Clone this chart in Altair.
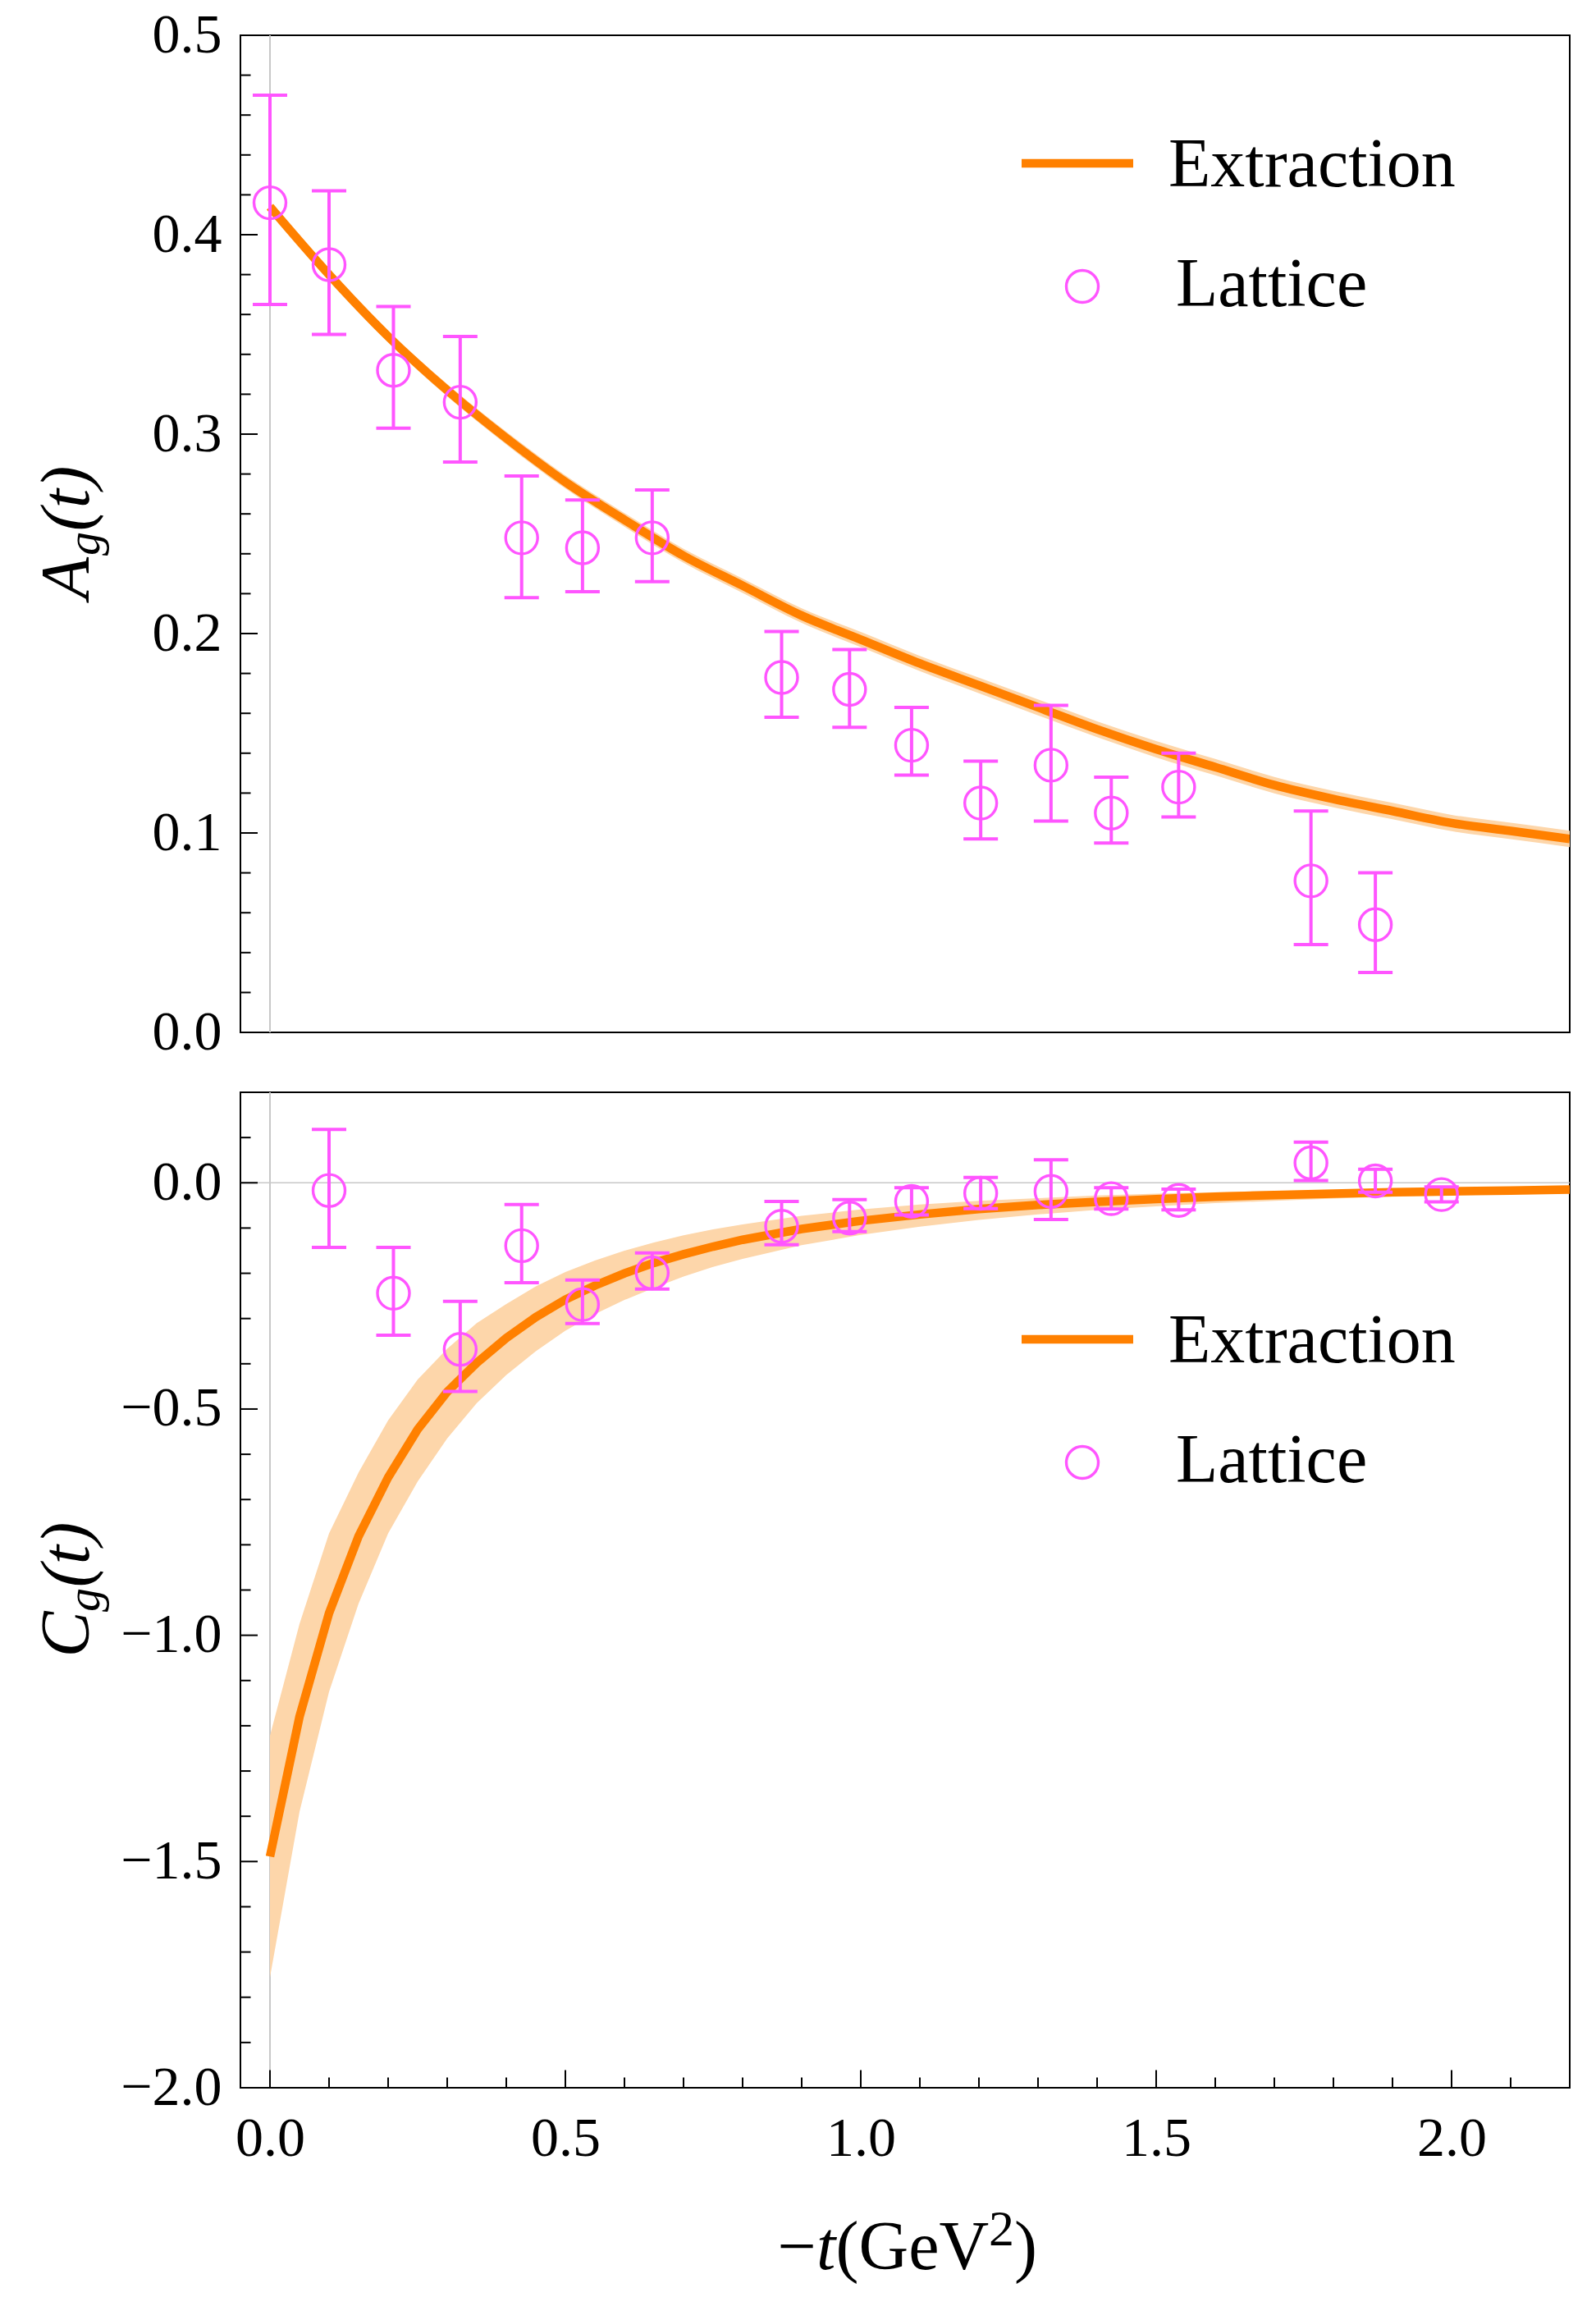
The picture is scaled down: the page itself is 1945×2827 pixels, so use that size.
import altair as alt
import pandas as pd

FONT = "Liberation Serif"
ORANGE = "#ff8000"
BAND = "#fdd6aa"
MAGENTA = "#ff55ff"
GRID = "#c8c8c8"

W = 1620
H_TOP = 1215
H_BOT = 1213

# ---------------- data: A_g(t) ----------------
curve_t_A = [0.0, 0.1, 0.2, 0.3, 0.4, 0.5, 0.6, 0.7, 0.8, 0.9, 1.0, 1.1,
             1.2, 1.3, 1.4, 1.5, 1.6, 1.7, 1.8, 1.9, 2.0, 2.1, 2.2]
curve_A = [0.414, 0.380, 0.349, 0.322, 0.298, 0.276, 0.257, 0.239, 0.224, 0.209, 0.197, 0.185,
           0.174, 0.163, 0.152, 0.142, 0.133, 0.124, 0.117, 0.111, 0.105, 0.101, 0.097]
curve_A_lo = [0.4115, 0.3773, 0.3461, 0.3189, 0.2948, 0.2727, 0.2536, 0.2355, 0.2204, 0.2053,
              0.1932, 0.1812, 0.1701, 0.1590, 0.1480, 0.1379, 0.1289, 0.1199, 0.1129, 0.1069,
              0.1009, 0.0969, 0.0929]
curve_A_hi = [0.4165, 0.3827, 0.3519, 0.3251, 0.3012, 0.2793, 0.2604, 0.2425, 0.2276, 0.2127,
              0.2008, 0.1888, 0.1779, 0.1670, 0.1560, 0.1461, 0.1371, 0.1281, 0.1211, 0.1151,
              0.1091, 0.1051, 0.1011]

lat_t_A = [0.0, 0.100, 0.209, 0.322, 0.426, 0.529, 0.647, 0.866, 0.981, 1.086, 1.203,
           1.322, 1.424, 1.538, 1.762, 1.871]
lat_A = [0.416, 0.385, 0.332, 0.316, 0.248, 0.243, 0.248, 0.178, 0.172, 0.144, 0.115,
         0.134, 0.110, 0.123, 0.076, 0.054]
lat_A_lo = [0.365, 0.350, 0.303, 0.286, 0.218, 0.221, 0.226, 0.158, 0.153, 0.129, 0.097,
            0.106, 0.095, 0.108, 0.044, 0.030]
lat_A_hi = [0.470, 0.422, 0.364, 0.349, 0.279, 0.267, 0.272, 0.201, 0.192, 0.163, 0.136,
            0.164, 0.128, 0.140, 0.111, 0.080]

# ---------------- data: C_g(t) ----------------
curve_t_C = [0.0, 0.05, 0.10, 0.15, 0.20, 0.25, 0.30, 0.35, 0.40, 0.45, 0.50, 0.55, 0.60,
             0.65, 0.70, 0.75, 0.80, 0.9, 1.0, 1.1, 1.2, 1.3, 1.4, 1.5, 1.6, 1.7, 1.8,
             1.9, 2.0, 2.1, 2.2]
curve_C = [-1.489, -1.180, -0.951, -0.781, -0.651, -0.545, -0.462, -0.398, -0.343, -0.297,
           -0.258, -0.227, -0.200, -0.177, -0.158, -0.141, -0.126, -0.102, -0.084, -0.070,
           -0.058, -0.049, -0.042, -0.036, -0.031, -0.027, -0.024, -0.021, -0.019, -0.017,
           -0.015]
curve_C_hi = [-1.222, -0.975, -0.775, -0.640, -0.525, -0.435, -0.367, -0.310, -0.268, -0.229,
              -0.197, -0.172, -0.150, -0.132, -0.116, -0.103, -0.092, -0.073, -0.059, -0.048,
              -0.040, -0.034, -0.028, -0.024, -0.021, -0.018, -0.016, -0.014, -0.012, -0.011,
              -0.010]
curve_C_lo = [-1.756, -1.390, -1.125, -0.930, -0.775, -0.660, -0.565, -0.487, -0.425, -0.372,
              -0.327, -0.290, -0.259, -0.232, -0.207, -0.186, -0.168, -0.138, -0.115, -0.097,
              -0.082, -0.070, -0.060, -0.052, -0.045, -0.040, -0.035, -0.031, -0.028, -0.025,
              -0.023]

lat_t_C = [0.100, 0.209, 0.322, 0.426, 0.529, 0.647, 0.866, 0.981, 1.086, 1.203, 1.322,
           1.424, 1.538, 1.762, 1.871, 1.983]
lat_C = [-0.017, -0.244, -0.368, -0.139, -0.269, -0.199, -0.096, -0.078, -0.041, -0.023,
         -0.019, -0.035, -0.039, 0.044, 0.004, -0.026]
lat_C_lo = [-0.143, -0.337, -0.461, -0.221, -0.311, -0.235, -0.137, -0.108, -0.071, -0.057,
            -0.081, -0.058, -0.060, 0.005, -0.021, -0.042]
lat_C_hi = [0.118, -0.143, -0.262, -0.048, -0.215, -0.155, -0.041, -0.037, -0.011, 0.012,
            0.051, -0.011, -0.014, 0.090, 0.030, -0.009]

# ---------------- ticks ----------------
top_y_major = [0.0, 0.1, 0.2, 0.3, 0.4, 0.5]
top_y_minor = [0.02, 0.04, 0.06, 0.08, 0.12, 0.14, 0.16, 0.18, 0.22, 0.24, 0.26, 0.28,
               0.32, 0.34, 0.36, 0.38, 0.42, 0.44, 0.46, 0.48]
bot_y_major = [-2.0, -1.5, -1.0, -0.5, 0.0]
bot_y_minor = [-1.9, -1.8, -1.7, -1.6, -1.4, -1.3, -1.2, -1.1, -0.9, -0.8, -0.7, -0.6,
               -0.4, -0.3, -0.2, -0.1, 0.1, 0.2]
bot_x_major = [0.0, 0.5, 1.0, 1.5, 2.0]
bot_x_minor = [0.1, 0.2, 0.3, 0.4, 0.6, 0.7, 0.8, 0.9, 1.1, 1.2, 1.3, 1.4, 1.6, 1.7,
               1.8, 1.9, 2.1, 2.2]

legend_labels = ["Extraction", "Lattice"]

# ---------------- scales & axes ----------------
xs = alt.Scale(domain=[-0.05, 2.2], nice=False, zero=False)
ys_top = alt.Scale(domain=[0.0, 0.5], nice=False, zero=False)
ys_bot = alt.Scale(domain=[-2.0, 0.2], nice=False, zero=False)

LBL = dict(labelFont=FONT, labelFontSize=68, labelColor="black", ticks=False, tickSize=0,
           domain=False, grid=False, title=None, labelFlush=False, labelOverlap=False)

x_axis_top = alt.Axis(labels=False, ticks=False, domain=False, grid=False, title=None)
x_axis_bot = alt.Axis(values=bot_x_major, format=".1f", labelPadding=28, **LBL)
y_axis_top = alt.Axis(values=top_y_major, format=".1f", labelPadding=23, **LBL)
y_axis_bot = alt.Axis(values=bot_y_major, format=".1f", labelPadding=23, **LBL)

CIRCLE = 1520
ERR_W = 4


def enc_x(field, axis):
    return alt.X(field, type="quantitative", scale=xs, axis=axis)


def enc_y(field, scale, axis):
    return alt.Y(field, type="quantitative", scale=scale, axis=axis)


def text_piece(s, x, y, size=84, italic=False, angle=0, align="left"):
    kw = dict(font=FONT, fontSize=size, color="black", align=align, baseline="alphabetic")
    if italic:
        kw["fontStyle"] = "italic"
    if angle:
        kw["angle"] = angle
    return alt.Chart(pd.DataFrame({"s": [s]})).mark_text(**kw).encode(
        text="s:N", x=alt.value(x), y=alt.value(y))


def panel(curve_t, mid, lo, hi, lt, lv, llo, lhi, yscale, yaxis, xaxis, height,
          ymaj, ymin, legend_y, title_letter, with_zero_line, bottom, interp):
    X = lambda f: enc_x(f, xaxis)
    Y = lambda f: enc_y(f, yscale, yaxis)
    cdf = pd.DataFrame({"t": curve_t, "mid": mid, "lo": lo, "hi": hi})
    ldf = pd.DataFrame({"t": lt, "v": lv, "lo": llo, "hi": lhi})

    layers = []
    base_grid = alt.Chart(pd.DataFrame({"v": [0.0]}))
    layers.append(base_grid.mark_rule(color=GRID, strokeWidth=2).encode(x=X("v")))
    if with_zero_line:
        layers.append(base_grid.mark_rule(color=GRID, strokeWidth=1.5).encode(y=Y("v")))

    cbase = alt.Chart(cdf)
    layers.append(cbase.mark_area(color=BAND, opacity=1, clip=True, interpolate=interp).encode(
        x=X("t"), y=Y("lo"), y2="hi"))
    layers.append(cbase.mark_line(color=ORANGE, strokeWidth=10.5, clip=True,
                                  interpolate=interp).encode(x=X("t"), y=Y("mid")))

    lbase = alt.Chart(ldf)
    layers.append(lbase.mark_rule(color=MAGENTA, strokeWidth=ERR_W).encode(
        x=X("t"), y=Y("lo"), y2="hi"))
    layers.append(lbase.mark_tick(orient="horizontal", color=MAGENTA, size=42, thickness=ERR_W,
                                  opacity=1).encode(x=X("t"), y=Y("lo")))
    layers.append(lbase.mark_tick(orient="horizontal", color=MAGENTA, size=42, thickness=ERR_W,
                                  opacity=1).encode(x=X("t"), y=Y("hi")))
    layers.append(lbase.mark_point(shape="circle", filled=False, size=CIRCLE, strokeWidth=3.4,
                                   color=MAGENTA, opacity=1).encode(x=X("t"), y=Y("v")))

    # inward frame ticks (left)
    layers.append(alt.Chart(pd.DataFrame({"v": ymaj})).mark_rule(color="black", strokeWidth=2)
                  .encode(y=Y("v"), x=alt.value(0), x2=alt.value(21)))
    layers.append(alt.Chart(pd.DataFrame({"v": ymin})).mark_rule(color="black", strokeWidth=2)
                  .encode(y=Y("v"), x=alt.value(0), x2=alt.value(12.5)))
    if bottom:
        layers.append(alt.Chart(pd.DataFrame({"v": bot_x_major})).mark_rule(color="black", strokeWidth=2)
                      .encode(x=X("v"), y=alt.value(height), y2=alt.value(height - 21.5)))
        layers.append(alt.Chart(pd.DataFrame({"v": bot_x_minor})).mark_rule(color="black", strokeWidth=2)
                      .encode(x=X("v"), y=alt.value(height), y2=alt.value(height - 12.5)))

    # legend
    ly = legend_y
    layers.append(alt.Chart(pd.DataFrame({"s": [legend_labels[0]]})).mark_rule(
        color=ORANGE, strokeWidth=10.5).encode(
        x=alt.value(952), x2=alt.value(1088), y=alt.value(ly), y2=alt.value(ly)))
    layers.append(alt.Chart(pd.DataFrame({"s": [legend_labels[1]]})).mark_point(
        shape="circle", filled=False, size=CIRCLE, strokeWidth=3.4, color=MAGENTA, opacity=1).encode(
        x=alt.value(1026), y=alt.value(ly + 150)))
    layers.append(text_piece(legend_labels[0], 1131, ly + 28))
    layers.append(text_piece(legend_labels[1], 1140, ly + 174))

    # y title  X_g(t), rotated
    c = height / 2.0 - 4
    layers.append(text_piece(title_letter, -185, c + 58, italic=True, angle=270, align="center"))
    layers.append(text_piece("g", -172, c + 16, size=58, italic=True, angle=270, align="center"))
    layers.append(text_piece("(t)", -185, c - 39, italic=True, angle=270, align="center"))

    # invisible anchor fixing the left/top extent of the layout
    anchor_y = -34 if not bottom else height / 2.0
    layers.append(alt.Chart(pd.DataFrame({"s": ["anchor"]})).mark_rule(
        strokeOpacity=0, strokeWidth=1).encode(
        x=alt.value(-283.5), x2=alt.value(-283.5), y=alt.value(anchor_y), y2=alt.value(anchor_y + 1)))

    if bottom:
        b = 1434
        layers.append(text_piece("\u2212", 654.5, b))
        layers.append(text_piece("t", 702, b, italic=True))
        layers.append(text_piece("(GeV", 725.5, b))
        layers.append(text_piece("2", 912, b - 29, size=62))
        layers.append(text_piece(")", 943, b))

    return alt.layer(*layers).properties(width=W, height=height)


top = panel(curve_t_A, curve_A, curve_A_lo, curve_A_hi, lat_t_A, lat_A, lat_A_lo, lat_A_hi,
            ys_top, y_axis_top, x_axis_top, H_TOP, top_y_major, top_y_minor, 156, "A",
            False, False, "monotone")
bot = panel(curve_t_C, curve_C, curve_C_lo, curve_C_hi, lat_t_C, lat_C, lat_C_lo, lat_C_hi,
            ys_bot, y_axis_bot, x_axis_bot, H_BOT, bot_y_major, bot_y_minor, 301, "C",
            True, True, "linear")

chart = (alt.vconcat(top, bot, spacing=36)
         .properties(padding=0, background="white")
         .configure_view(stroke="black", strokeWidth=2)
         .configure_axis(labelFont=FONT, labelColor="black")
         .configure_text(font=FONT))

chart.save("out.html", embed_options={"renderer": "svg", "actions": False})
